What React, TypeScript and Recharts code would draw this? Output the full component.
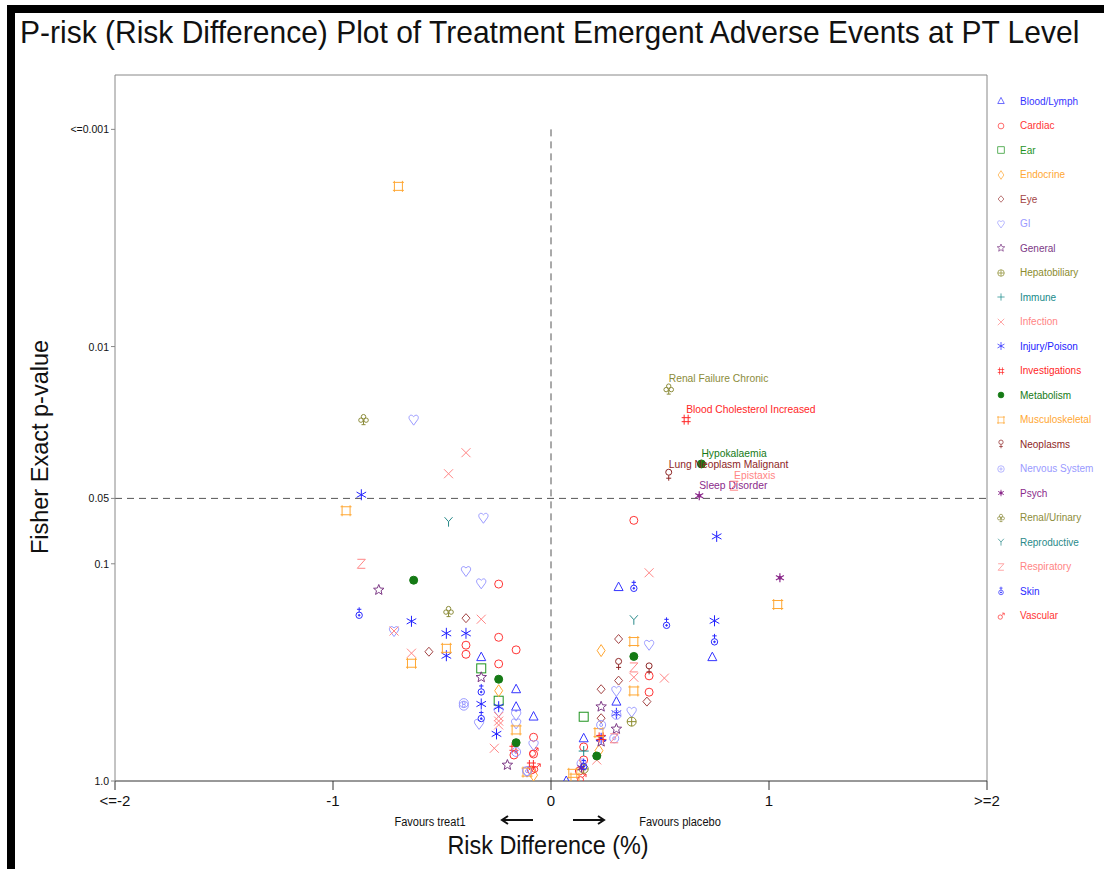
import React from 'react';
import { ScatterChart, Scatter, XAxis, YAxis, ReferenceLine } from 'recharts';

type Pt = { rd: number; p: number; label?: string };

// risk difference (%) and Fisher exact p-value
const bloodLymph: Pt[] = [
  { rd: -0.32, p: 0.269 }, { rd: -0.16, p: 0.378 }, { rd: -0.16, p: 0.455 }, { rd: -0.08, p: 0.505 },
  { rd: 0.31, p: 0.128 }, { rd: 0.74, p: 0.269 }, { rd: 0.3, p: 0.431 }, { rd: 0.15, p: 0.636 }, { rd: 0.07, p: 1.0 },
];
const cardiac: Pt[] = [
  { rd: -0.24, p: 0.124 }, { rd: -0.24, p: 0.218 }, { rd: -0.39, p: 0.237 }, { rd: -0.16, p: 0.249 },
  { rd: -0.39, p: 0.261 }, { rd: -0.24, p: 0.289 }, { rd: -0.08, p: 0.629 }, { rd: -0.17, p: 0.759 },
  { rd: -0.08, p: 0.751 }, { rd: -0.09, p: 0.89 }, { rd: 0.38, p: 0.0631 }, { rd: 0.45, p: 0.328 },
  { rd: 0.45, p: 0.39 }, { rd: 0.15, p: 0.697 }, { rd: 0.15, p: 0.8 }, { rd: 0.13, p: 0.9 },
];
const ear: Pt[] = [{ rd: -0.32, p: 0.303 }, { rd: -0.24, p: 0.427 }, { rd: 0.15, p: 0.506 }];
const endocrine: Pt[] = [{ rd: -0.24, p: 0.384 }, { rd: 0.23, p: 0.251 }, { rd: 0.22, p: 0.725 }, { rd: -0.08, p: 0.94 }];
const eye: Pt[] = [
  { rd: -0.39, p: 0.178 }, { rd: -0.56, p: 0.254 }, { rd: 0.31, p: 0.222 }, { rd: 0.31, p: 0.345 },
  { rd: 0.23, p: 0.378 }, { rd: 0.44, p: 0.431 }, { rd: 0.23, p: 0.514 },
];
const gi: Pt[] = [
  { rd: -0.63, p: 0.0217 }, { rd: -0.31, p: 0.0614 }, { rd: -0.39, p: 0.108 }, { rd: -0.32, p: 0.123 },
  { rd: -0.72, p: 0.204 }, { rd: -0.24, p: 0.479 }, { rd: -0.16, p: 0.496 }, { rd: -0.33, p: 0.546 },
  { rd: -0.16, p: 0.543 }, { rd: -0.08, p: 0.682 }, { rd: -0.11, p: 0.906 }, { rd: 0.45, p: 0.236 },
  { rd: 0.3, p: 0.385 }, { rd: 0.37, p: 0.48 },
];
const general: Pt[] = [
  { rd: -0.79, p: 0.132 }, { rd: -0.32, p: 0.333 }, { rd: -0.2, p: 0.844 },
  { rd: 0.23, p: 0.455 }, { rd: 0.3, p: 0.576 }, { rd: 0.23, p: 0.659 },
];
const hepatobiliary: Pt[] = [{ rd: 0.37, p: 0.533 }, { rd: 0.15, p: 0.88 }];
const immune: Pt[] = [{ rd: 0.15, p: 0.728 }];
const infection: Pt[] = [
  { rd: -0.39, p: 0.0308 }, { rd: -0.47, p: 0.0385 }, { rd: -0.32, p: 0.18 }, { rd: -0.72, p: 0.204 },
  { rd: -0.64, p: 0.258 }, { rd: -0.24, p: 0.505 }, { rd: -0.24, p: 0.53 }, { rd: -0.24, p: 0.552 },
  { rd: -0.26, p: 0.707 }, { rd: 0.45, p: 0.11 }, { rd: 0.38, p: 0.333 }, { rd: 0.52, p: 0.336 }, { rd: 0.21, p: 0.8 },
];
const injury: Pt[] = [
  { rd: -0.87, p: 0.0481 }, { rd: -0.64, p: 0.184 }, { rd: -0.48, p: 0.209 }, { rd: -0.39, p: 0.209 },
  { rd: -0.48, p: 0.265 }, { rd: -0.32, p: 0.442 }, { rd: -0.24, p: 0.455 }, { rd: -0.25, p: 0.607 },
  { rd: 0.76, p: 0.0748 }, { rd: 0.75, p: 0.183 }, { rd: 0.3, p: 0.488 }, { rd: 0.23, p: 0.636 },
];
const investigations: Pt[] = [
  { rd: 0.62, p: 0.0217, label: 'Blood Cholesterol Increased' },
  { rd: -0.17, p: 0.707 }, { rd: -0.09, p: 0.844 }, { rd: 0.23, p: 0.63 },
];
const metabolism: Pt[] = [
  { rd: 0.69, p: 0.0347, label: 'Hypokalaemia' },
  { rd: -0.63, p: 0.119 }, { rd: -0.24, p: 0.34 }, { rd: -0.16, p: 0.666 }, { rd: 0.38, p: 0.267 }, { rd: 0.21, p: 0.767 },
];
const musculoskeletal: Pt[] = [
  { rd: -0.7, p: 0.00183 }, { rd: -0.94, p: 0.057 }, { rd: -0.48, p: 0.245 }, { rd: -0.64, p: 0.287 },
  { rd: -0.16, p: 0.582 }, { rd: 1.04, p: 0.154 }, { rd: 0.38, p: 0.228 }, { rd: 0.38, p: 0.385 },
  { rd: 0.22, p: 0.599 }, { rd: 0.1, p: 0.922 }, { rd: 0.11, p: 0.97 }, { rd: -0.11, p: 0.91 },
];
const neoplasms: Pt[] = [
  { rd: 0.54, p: 0.0389, label: 'Lung Neoplasm Malignant' },
  { rd: 0.31, p: 0.289 }, { rd: 0.45, p: 0.303 },
];
const nervous: Pt[] = [
  { rd: -0.4, p: 0.438 }, { rd: -0.4, p: 0.45 }, { rd: 0.3, p: 0.496 }, { rd: 0.23, p: 0.552 },
  { rd: 0.29, p: 0.636 }, { rd: 0.14, p: 0.83 }, { rd: -0.11, p: 0.9 }, { rd: -0.16, p: 0.735 },
];
const psych: Pt[] = [
  { rd: 0.68, p: 0.0486, label: 'Sleep Disorder' },
  { rd: 1.05, p: 0.116 }, { rd: 0.14, p: 0.87 },
];
const renal: Pt[] = [
  { rd: 0.54, p: 0.0157, label: 'Renal Failure Chronic' },
  { rd: -0.86, p: 0.0217 }, { rd: -0.47, p: 0.166 },
];
const reproductive: Pt[] = [{ rd: -0.47, p: 0.064 }, { rd: 0.38, p: 0.181 }];
const respiratory: Pt[] = [
  { rd: 0.84, p: 0.0437, label: 'Epistaxis' },
  { rd: -0.87, p: 0.1 }, { rd: 0.38, p: 0.3 }, { rd: 0.29, p: 0.636 },
];
const skin: Pt[] = [
  { rd: -0.88, p: 0.169 }, { rd: -0.32, p: 0.381 }, { rd: -0.32, p: 0.505 }, { rd: 0.38, p: 0.127 },
  { rd: 0.53, p: 0.188 }, { rd: 0.75, p: 0.224 }, { rd: 0.15, p: 0.84 },
];
const vascular: Pt[] = [{ rd: -0.08, p: 0.735 }, { rd: 0.14, p: 0.97 }, { rd: -0.07, p: 0.87 }];

const xTicks = [-2, -1, 0, 1, 2];
const xTickLabels = ['<=-2', '-1', '0', '1', '>=2'];
const yTicks = [1, 0.1, 0.05, 0.01, 0.001];
const yTickLabels = ['1.0', '0.1', '0.05', '0.01', '<=0.001'];
const pTop = 0.000562;

const categories = [
  { name: 'Blood/Lymph', color: '#3535ff', kind: 'triangle', data: bloodLymph },
  { name: 'Cardiac', color: '#ff3535', kind: 'circle', data: cardiac },
  { name: 'Ear', color: '#1f931f', kind: 'square', data: ear },
  { name: 'Endocrine', color: '#ffa733', kind: 'diamond', data: endocrine },
  { name: 'Eye', color: '#a34545', kind: 'smalldiamond', data: eye },
  { name: 'GI', color: '#9a9aff', kind: 'heart', data: gi },
  { name: 'General', color: '#7d3a86', kind: 'star', data: general },
  { name: 'Hepatobiliary', color: '#8c8c2e', kind: 'circleplus', data: hepatobiliary },
  { name: 'Immune', color: '#178a8a', kind: 'plus', data: immune },
  { name: 'Infection', color: '#ff8585', kind: 'x', data: infection },
  { name: 'Injury/Poison', color: '#2222ff', kind: 'asterisk', data: injury },
  { name: 'Investigations', color: '#ff2626', kind: 'hash', data: investigations },
  { name: 'Metabolism', color: '#157a15', kind: 'dot', data: metabolism },
  { name: 'Musculoskeletal', color: '#ffa733', kind: 'musc', data: musculoskeletal },
  { name: 'Neoplasms', color: '#8e2626', kind: 'female', data: neoplasms },
  { name: 'Nervous System', color: '#9a9aff', kind: 'target', data: nervous },
  { name: 'Psych', color: '#8b2a8b', kind: 'psych', data: psych },
  { name: 'Renal/Urinary', color: '#8c8c3a', kind: 'club', data: renal },
  { name: 'Reproductive', color: '#2a8a8a', kind: 'y', data: reproductive },
  { name: 'Respiratory', color: '#ff8585', kind: 'z', data: respiratory },
  { name: 'Skin', color: '#2a2aff', kind: 'skin', data: skin },
  { name: 'Vascular', color: '#ff3535', kind: 'male', data: vascular },
];

const SANS = "'Liberation Sans', Arial, sans-serif";

function starPath(cx: number, cy: number, ro: number, ri: number) {
  let d = '';
  for (let i = 0; i < 10; i++) {
    const r = i % 2 === 0 ? ro : ri;
    const a = -Math.PI / 2 + (i * Math.PI) / 5;
    d += (i === 0 ? 'M' : 'L') + (cx + r * Math.cos(a)).toFixed(2) + ',' + (cy + r * Math.sin(a)).toFixed(2) + ' ';
  }
  return d + 'Z';
}

const Marker = ({ kind, cx, cy, color }: { kind: string; cx: number; cy: number; color: string }) => {
  const c = { fill: 'none', stroke: color, strokeWidth: 1 };
  switch (kind) {
    case 'triangle':
      return <path d={`M${cx},${cy - 5} L${cx + 4.5},${cy + 3.5} L${cx - 4.5},${cy + 3.5} Z`} {...c} />;
    case 'circle':
      return <circle cx={cx} cy={cy} r={4} {...c} />;
    case 'square':
      return <rect x={cx - 4.5} y={cy - 4.5} width={9} height={9} {...c} />;
    case 'diamond':
      return <path d={`M${cx},${cy - 6} L${cx + 4},${cy} L${cx},${cy + 6} L${cx - 4},${cy} Z`} {...c} />;
    case 'smalldiamond':
      return <path d={`M${cx},${cy - 4.5} L${cx + 4},${cy} L${cx},${cy + 4.5} L${cx - 4},${cy} Z`} {...c} />;
    case 'heart':
      return (
        <path
          d={`M${cx},${cy + 5.5} L${cx - 4},${cy} C${cx - 6},${cy - 3} ${cx - 3},${cy - 6.5} ${cx},${cy - 3} C${cx + 3},${cy - 6.5} ${cx + 6},${cy - 3} ${cx + 4},${cy} Z`}
          {...c}
        />
      );
    case 'star':
      return <path d={starPath(cx, cy, 5.5, 2.4)} {...c} />;
    case 'circleplus':
      return (
        <g {...c}>
          <circle cx={cx} cy={cy} r={4.5} />
          <path d={`M${cx - 4.5},${cy} H${cx + 4.5} M${cx},${cy - 4.5} V${cy + 4.5}`} />
        </g>
      );
    case 'plus':
      return <path d={`M${cx - 5},${cy} H${cx + 5} M${cx},${cy - 5} V${cy + 5}`} {...c} />;
    case 'x':
      return <path d={`M${cx - 4.5},${cy - 4.5} L${cx + 4.5},${cy + 4.5} M${cx - 4.5},${cy + 4.5} L${cx + 4.5},${cy - 4.5}`} {...c} />;
    case 'asterisk':
      return (
        <path
          d={`M${cx},${cy - 5.5} V${cy + 5.5} M${cx - 4.8},${cy - 2.7} L${cx + 4.8},${cy + 2.7} M${cx - 4.8},${cy + 2.7} L${cx + 4.8},${cy - 2.7}`}
          {...c}
        />
      );
    case 'hash':
      return (
        <path
          d={`M${cx - 2},${cy - 5} V${cy + 5} M${cx + 2},${cy - 5} V${cy + 5} M${cx - 4.5},${cy - 2} H${cx + 4.5} M${cx - 4.5},${cy + 2} H${cx + 4.5}`}
          {...c}
        />
      );
    case 'dot':
      return <circle cx={cx} cy={cy} r={4} fill={color} stroke={color} />;
    case 'musc':
      return (
        <path
          d={`M${cx - 5.5},${cy - 4} H${cx + 5.5} M${cx - 5.5},${cy + 4} H${cx + 5.5} M${cx - 4},${cy - 5.5} V${cy + 5.5} M${cx + 4},${cy - 5.5} V${cy + 5.5}`}
          {...c}
        />
      );
    case 'female':
      return (
        <g {...c}>
          <circle cx={cx} cy={cy - 2.5} r={3} />
          <path d={`M${cx},${cy + 0.5} V${cy + 6} M${cx - 2.5},${cy + 3.5} H${cx + 2.5}`} />
        </g>
      );
    case 'target':
      return (
        <g {...c}>
          <circle cx={cx} cy={cy} r={4.5} />
          <circle cx={cx} cy={cy} r={1.5} />
        </g>
      );
    case 'psych':
      return (
        <g>
          <path
            d={`M${cx},${cy - 4.5} V${cy + 4.5} M${cx - 4},${cy - 2.3} L${cx + 4},${cy + 2.3} M${cx - 4},${cy + 2.3} L${cx + 4},${cy - 2.3}`}
            fill="none"
            stroke={color}
            strokeWidth={1.2}
          />
          <circle cx={cx} cy={cy} r={2} fill={color} />
        </g>
      );
    case 'club':
      return (
        <g {...c}>
          <circle cx={cx} cy={cy - 3} r={2.2} />
          <circle cx={cx - 2.6} cy={cy + 0.5} r={2.2} />
          <circle cx={cx + 2.6} cy={cy + 0.5} r={2.2} />
          <path d={`M${cx},${cy} V${cy + 5} M${cx - 2},${cy + 5} H${cx + 2}`} />
        </g>
      );
    case 'y':
      return <path d={`M${cx - 4},${cy - 4.5} L${cx},${cy} L${cx + 4},${cy - 4.5} M${cx},${cy} V${cy + 5}`} {...c} />;
    case 'z':
      return <path d={`M${cx - 4},${cy - 4.5} H${cx + 4} L${cx - 4},${cy + 4.5} H${cx + 4}`} {...c} />;
    case 'skin':
      return (
        <g {...c}>
          <circle cx={cx} cy={cy + 2} r={3.2} />
          <circle cx={cx} cy={cy + 2} r={0.8} fill={color} />
          <path d={`M${cx},${cy - 1.2} V${cy - 6} M${cx - 2.2},${cy - 4} H${cx + 2.2}`} />
        </g>
      );
    case 'male':
      return (
        <g {...c}>
          <circle cx={cx - 1} cy={cy + 1.5} r={3} />
          <path d={`M${cx + 1.2},${cy - 0.7} L${cx + 4.5},${cy - 4} M${cx + 1.5},${cy - 4} H${cx + 4.5} V${cy - 1}`} />
        </g>
      );
    default:
      return null;
  }
};

const makeShape = (kind: string, color: string) => (props: any) => {
  const { cx, cy, payload } = props;
  if (cx == null || cy == null) return <g />;
  return (
    <g>
      <Marker kind={kind} cx={cx} cy={cy} color={color} />
      {payload && payload.label ? (
        <text x={cx} y={cy - 7} fill={color} fontSize={10.3} fontFamily={SANS}>
          {payload.label}
        </text>
      ) : null}
    </g>
  );
};

const XTick = (props: any) => {
  const { x, y, payload } = props;
  const i = xTicks.indexOf(payload.value);
  return (
    <text x={x} y={y + 14} textAnchor="middle" fontSize={15} fontFamily={SANS} fill="#111">
      {xTickLabels[i]}
    </text>
  );
};

const YTick = (props: any) => {
  const { x, y, payload } = props;
  const i = yTicks.indexOf(payload.value);
  return (
    <text x={x} y={y + 4} textAnchor="end" fontSize={10.5} fontFamily={SANS} fill="#111">
      {yTickLabels[i]}
    </text>
  );
};

const Arrow = ({ dir }: { dir: 'left' | 'right' }) => (
  <svg width={36} height={10} style={{ display: 'block' }}>
    {dir === 'left' ? (
      <path d="M34,5 H4 M9,1 L3,5 L9,9" fill="none" stroke="#111" strokeWidth={2} />
    ) : (
      <path d="M2,5 H32 M27,1 L33,5 L27,9" fill="none" stroke="#111" strokeWidth={2} />
    )}
  </svg>
);

export default function App() {
  return (
    <div style={{ position: 'absolute', left: 0, top: 0, width: 1104, height: 869, background: '#fff', overflow: 'hidden' }}>
      {/* black frame */}
      <div
        style={{
          position: 'absolute', left: 7, top: 5, width: 1120, height: 880,
          borderLeft: '8px solid #000', borderTop: '8px solid #000', borderBottom: '4px solid #000', boxSizing: 'border-box',
        }}
      />
      <div
        style={{
          position: 'absolute', left: 20, top: 15, textAlign: 'left', fontFamily: SANS,
          fontSize: 30, color: '#111', whiteSpace: 'nowrap', transform: 'scaleY(1.05)', transformOrigin: 'left top',
        }}
      >
        P-risk (Risk Difference) Plot of Treatment Emergent Adverse Events at PT Level
      </div>

      <div style={{ position: 'absolute', left: 0, top: 0 }}>
        <ScatterChart width={1104} height={869} margin={{ top: 75, right: 117, bottom: 48, left: 55 }}>
          <XAxis
            type="number"
            dataKey="rd"
            domain={[-2, 2]}
            ticks={xTicks}
            height={40}
            tickSize={9}
            tick={<XTick />}
            stroke="#333"
            interval={0}
          />
          <YAxis
            type="number"
            dataKey="p"
            scale="log"
            domain={[pTop, 1]}
            reversed
            allowDataOverflow
            ticks={yTicks}
            width={60}
            tickSize={4}
            tick={<YTick />}
            stroke="#888"
            interval={0}
          />
          <ReferenceLine y={pTop} stroke="#888" />
          <ReferenceLine x={2} stroke="#888" />
          <ReferenceLine y={0.05} stroke="#555" strokeDasharray="7 5" />
          <ReferenceLine segment={[{ x: 0, y: 0.001 }, { x: 0, y: 1 }]} stroke="#555" strokeDasharray="7 5" />
          {categories.map((cat) => (
            <Scatter
              key={cat.name}
              name={cat.name}
              data={cat.data}
              shape={makeShape(cat.kind, cat.color)}
              isAnimationActive={false}
            />
          ))}
        </ScatterChart>
      </div>

      {/* legend */}
      <div style={{ position: 'absolute', left: 992, top: 89 }}>
        {categories.map((cat) => (
          <div key={cat.name} style={{ display: 'flex', alignItems: 'center', height: 24.5 }}>
            <svg width={18} height={16} style={{ display: 'block' }}>
              <g transform="translate(9,8) scale(0.72) translate(-9,-8)">
                <Marker kind={cat.kind} cx={9} cy={8} color={cat.color} />
              </g>
            </svg>
            <span style={{ marginLeft: 10, fontSize: 10, fontFamily: SANS, color: cat.color, whiteSpace: 'nowrap' }}>
              {cat.name}
            </span>
          </div>
        ))}
      </div>

      {/* axis titles */}
      <div
        style={{
          position: 'absolute', left: 40, top: 447, transform: 'translate(-50%, -50%) rotate(-90deg)',
          fontSize: 23.5, fontFamily: SANS, color: '#111', whiteSpace: 'nowrap',
        }}
      >
        Fisher Exact p-value
      </div>
      <div
        style={{
          position: 'absolute', left: 548, top: 845, transform: 'translate(-50%, -50%) scaleX(0.9)',
          fontSize: 26, fontFamily: SANS, color: '#111', whiteSpace: 'nowrap',
        }}
      >
        Risk Difference (%)
      </div>
      <div style={{ position: 'absolute', left: 430, top: 822, transform: 'translate(-50%, -50%) scaleX(0.92)', fontSize: 12, fontFamily: SANS, color: '#111', whiteSpace: 'nowrap' }}>
        Favours treat1
      </div>
      <div style={{ position: 'absolute', left: 680, top: 822, transform: 'translate(-50%, -50%) scaleX(0.92)', fontSize: 12, fontFamily: SANS, color: '#111', whiteSpace: 'nowrap' }}>
        Favours placebo
      </div>
      <div style={{ position: 'absolute', left: 499, top: 815 }}>
        <Arrow dir="left" />
      </div>
      <div style={{ position: 'absolute', left: 571, top: 815 }}>
        <Arrow dir="right" />
      </div>
    </div>
  );
}
